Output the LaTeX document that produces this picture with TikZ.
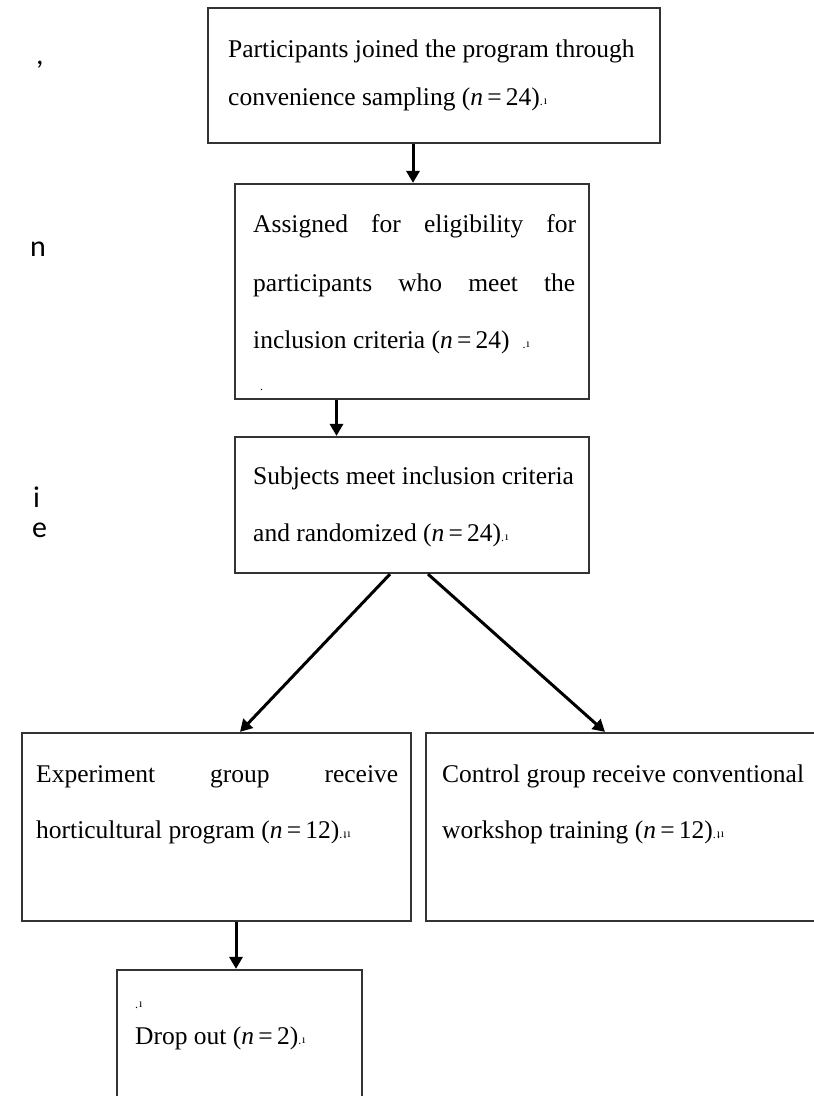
\documentclass[tikz,border=0pt]{standalone}
\usepackage{fontspec}
\setmainfont{Liberation Serif}
\newfontfamily\fragfont{Carlito}
\usetikzlibrary{arrows.meta,fit}
\newcommand\pmk{{\fontsize{12}{12}\selectfont.\kern0.8pt\raisebox{0.5pt}{ı}}}
\newcommand\nn{\textit{n}\,=\,}
\begin{document}
\begin{tikzpicture}[x=1pt,y=-1pt,
  box/.style={draw=black!80,line width=2.2pt,inner sep=0pt},
  arr/.style={line width=3pt,-{Triangle[length=12pt,width=13pt]}},
  txt/.style={anchor=base west,inner sep=0pt,font=\fontsize{25.5}{25.5}\selectfont},
  frag/.style={anchor=base west,inner sep=0pt,font=\fragfont\fontsize{30}{30}\selectfont}]
\useasboundingbox (0,0) rectangle (814,1096);
\clip (0,0) rectangle (814,1096);
\fill[white] (0,0) rectangle (814,1096);
% boxes
\node[box,fit={(208,8)(660,143)}] (b1) {};
\node[box,fit={(235,184)(589,399)}] (b2) {};
\node[box,fit={(235,437)(589,573)}] (b3) {};
\node[box,fit={(22,733)(411,921)}] (b4) {};
\node[box,fit={(426,733)(834,921)}] (b5) {};
\node[box,fit={(117,970)(362,1110)}] (b6) {};
% texts
\node[txt] (t11) at (228,57) {Participants joined the program through};
\node[txt] (t12) at (228,105) {convenience sampling (\nn24)\pmk};
\node[txt] (t21) at (253,232) {\makebox[323pt][s]{Assigned for eligibility for}};
\node[txt] (t22) at (253,291) {\makebox[322pt][s]{participants who meet the}};
\node[txt] (t23) at (253,348) {inclusion criteria (\nn24)\ \ \pmk};
\node[txt] (t24) at (260,390) {\fontsize{12}{12}\selectfont.};
\node[txt] (t31) at (253,484) {Subjects meet inclusion criteria};
\node[txt] (t32) at (253,541) {and randomized (\nn24)\pmk};
\node[txt] (t41) at (36,782) {\makebox[362pt][s]{Experiment group receive}};
\node[txt] (t42) at (36,838) {horticultural program (\nn12)\pmk\kern-3pt\pmk};
\node[txt] (t51) at (442,782) {Control group receive conventional};
\node[txt] (t52) at (442,838) {workshop training (\nn12)\pmk\kern-3pt\pmk};
\node[txt] (t61) at (135,1008) {\pmk};
\node[txt] (t62) at (135,1044) {Drop out (\nn2)\pmk};
% fragments at left edge
\node[frag] (f1) at (36,64) {,};
\node[frag] (f2) at (30,256) {n};
\node[frag] (f3) at (33,507) {i};
\node[frag] (f4) at (32,537) {e};
% arrows
\draw[arr] ([xshift=-21pt]b1.south) -- ([xshift=-21pt]b1.south |- b2.north);
\draw[arr] ([xshift=-75.5pt]b2.south) -- ([xshift=-75.5pt]b2.south |- b3.north);
\draw[arr] ([xshift=-22pt]b3.south) -- ([xshift=23.5pt]b4.north);
\draw[arr] ([xshift=16pt]b3.south) -- ([xshift=-25pt]b5.north);
\draw[arr] ([xshift=19.5pt]b4.south) -- ([xshift=19.5pt]b4.south |- b6.north);
\end{tikzpicture}
\end{document}
